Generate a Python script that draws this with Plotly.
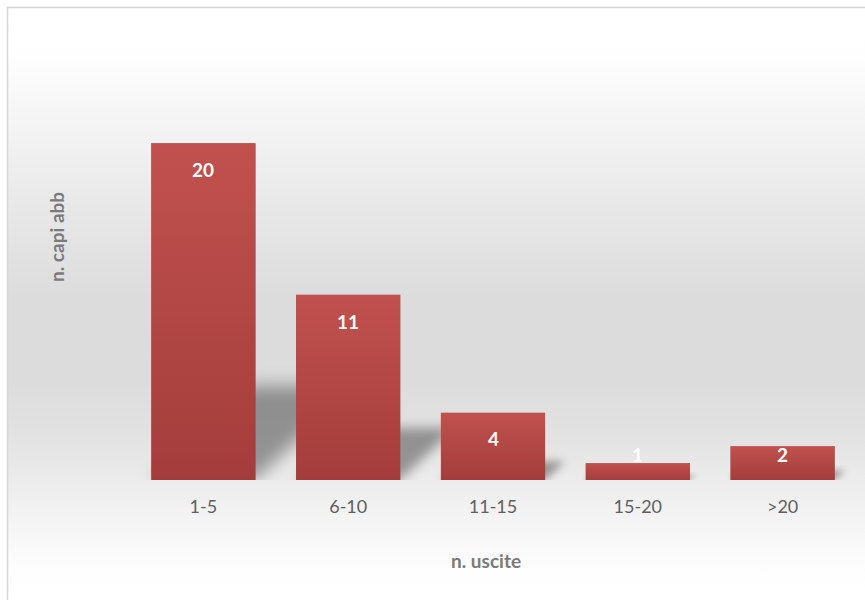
import base64
import plotly.graph_objects as go

# Distribution of animals by number of exits
categories = ["1-5", "6-10", "11-15", "15-20", ">20"]
capi = [20, 11, 4, 1, 2]
x_title = "n. uscite"
y_title = "n. capi abb"

W, H = 865, 600
M_L, M_R, M_T, M_B = 131, 10, 59, 120
Y_MAX = 25
BAR_W = 0.72
PLOT_W = W - M_L - M_R
PLOT_H = H - M_T - M_B
PX_X = PLOT_W / len(categories)   # pixels per category step
PX_Y = PLOT_H / Y_MAX             # pixels per unit of value

FONT = "Lato, 'Open Sans', sans-serif"


def svg_uri(svg):
    return "data:image/svg+xml;base64," + base64.b64encode(svg.encode()).decode()


def paper_x(px):
    return (px - M_L) / PLOT_W


def paper_y(py):
    return (H - M_B - py) / PLOT_H


images = []

# Soft vertical gradient behind the whole chart
bg_top, bg_bottom = 8, 600
bg_stops = [(8, "#ffffff"), (60, "#fefefe"), (90, "#f9f9f9"), (120, "#f5f5f5"),
            (200, "#e9e9e9"), (300, "#dcdcdc"), (380, "#dcdcdc"), (440, "#e3e3e3"),
            (490, "#eeeeee"), (530, "#f6f6f6"), (565, "#fdfdfd"), (600, "#ffffff")]
stop_xml = "".join(
    f'<stop offset="{(y - bg_top) / (bg_bottom - bg_top):.4f}" stop-color="{c}"/>'
    for y, c in bg_stops)
bg_svg = ('<svg xmlns="http://www.w3.org/2000/svg" width="100" height="100" '
          'viewBox="0 0 100 100" preserveAspectRatio="none"><defs>'
          f'<linearGradient id="g" x1="0" y1="0" x2="0" y2="1">{stop_xml}</linearGradient>'
          '</defs><rect width="100" height="100" fill="url(#g)"/></svg>')
images.append(dict(source=svg_uri(bg_svg), xref="paper", yref="paper",
                   x=paper_x(8), y=paper_y(bg_top),
                   sizex=(W - 8) / PLOT_W, sizey=(bg_bottom - bg_top) / PLOT_H,
                   xanchor="left", yanchor="top", sizing="stretch", layer="below"))

# Perspective shadows cast back and to the right of each bar
bw = BAR_W * PX_X
for i, v in enumerate(capi):
    h = 0.28 * v * PX_Y
    s = 1.05 * h
    sd = 3.0 + 0.06 * h
    pad = 3 * sd
    w_img = bw + s + 2 * pad
    h_img = h + 2 * pad
    pts = [(pad, pad + h), (pad + bw, pad + h), (pad + bw + s, pad), (pad + s, pad)]
    pts_txt = " ".join(f"{a:.1f},{b:.1f}" for a, b in pts)
    sh_svg = ('<svg xmlns="http://www.w3.org/2000/svg" '
              f'width="{w_img:.1f}" height="{h_img:.1f}" '
              f'viewBox="0 0 {w_img:.1f} {h_img:.1f}" preserveAspectRatio="none"><defs>'
              '<filter id="b" x="-50%" y="-50%" width="200%" height="200%">'
              f'<feGaussianBlur stdDeviation="{sd:.2f}"/></filter></defs>'
              f'<polygon points="{pts_txt}" fill="#000000" fill-opacity="0.36" '
              'filter="url(#b)"/></svg>')
    images.append(dict(source=svg_uri(sh_svg), xref="x", yref="y",
                       x=i - BAR_W / 2 - pad / PX_X, y=(h + pad) / PX_Y,
                       sizex=w_img / PX_X, sizey=h_img / PX_Y,
                       xanchor="left", yanchor="top", sizing="stretch", layer="below"))

# Red top-to-bottom gradient laid over each bar
bar_svg = ('<svg xmlns="http://www.w3.org/2000/svg" width="10" height="100" '
           'viewBox="0 0 10 100" preserveAspectRatio="none"><defs>'
           '<linearGradient id="r" x1="0" y1="0" x2="0" y2="1">'
           '<stop offset="0" stop-color="#c1514e"/><stop offset="1" stop-color="#a33d3b"/>'
           '</linearGradient></defs><rect width="10" height="100" fill="url(#r)"/></svg>')
for i, v in enumerate(capi):
    images.append(dict(source=svg_uri(bar_svg), xref="x", yref="y",
                       x=i - BAR_W / 2, y=v, sizex=BAR_W, sizey=v,
                       xanchor="left", yanchor="top", sizing="stretch", layer="above"))

fig = go.Figure(go.Bar(
    x=list(range(len(categories))), y=capi, width=BAR_W,
    marker=dict(color="#b2484a", line=dict(width=0)),
    hoverinfo="skip",
))

annotations = []
# Value labels inside the top of each bar
for i, v in enumerate(capi):
    annotations.append(dict(x=i, y=max(v - 1.56, 1.5), xref="x", yref="y",
                            text=str(v), showarrow=False,
                            xanchor="center", yanchor="middle",
                            font=dict(family=FONT, size=19, color="#ffffff", weight="bold")))
# Axis titles
annotations.append(dict(x=paper_x(486), y=paper_y(560), xref="paper", yref="paper",
                        text=f"<b>{x_title}</b>", showarrow=False,
                        xanchor="center", yanchor="middle",
                        font=dict(family=FONT, size=19, color="#7a7a7a")))
annotations.append(dict(x=paper_x(57), y=paper_y(237), xref="paper", yref="paper",
                        text=f"<b>{y_title}</b>", showarrow=False, textangle=-90,
                        xanchor="center", yanchor="middle",
                        font=dict(family=FONT, size=19, color="#7a7a7a")))

# Thin outline around the chart area
shapes = [dict(type="rect", xref="paper", yref="paper",
               x0=paper_x(7.5), y0=paper_y(H + 5), x1=paper_x(W + 5), y1=paper_y(7.5),
               line=dict(color="#d4d4d4", width=1.5), fillcolor="rgba(0,0,0,0)", layer="above")]

fig.update_layout(
    width=W, height=H,
    margin=dict(l=M_L, r=M_R, t=M_T, b=M_B, pad=0),
    paper_bgcolor="#ffffff", plot_bgcolor="rgba(0,0,0,0)",
    images=images, annotations=annotations, shapes=shapes,
    showlegend=False, hovermode=False,
    xaxis=dict(range=[-0.5, len(categories) - 0.5], tickvals=list(range(len(categories))),
               ticktext=categories, ticks="", ticklabelstandoff=14,
               showgrid=False, zeroline=False, showline=False, fixedrange=True,
               tickfont=dict(family=FONT, size=18, color="#5f5f5f")),
    yaxis=dict(range=[0, Y_MAX], visible=False, showgrid=False, zeroline=False,
               fixedrange=True),
)

fig.write_html("out.html", config={"displayModeBar": False})
